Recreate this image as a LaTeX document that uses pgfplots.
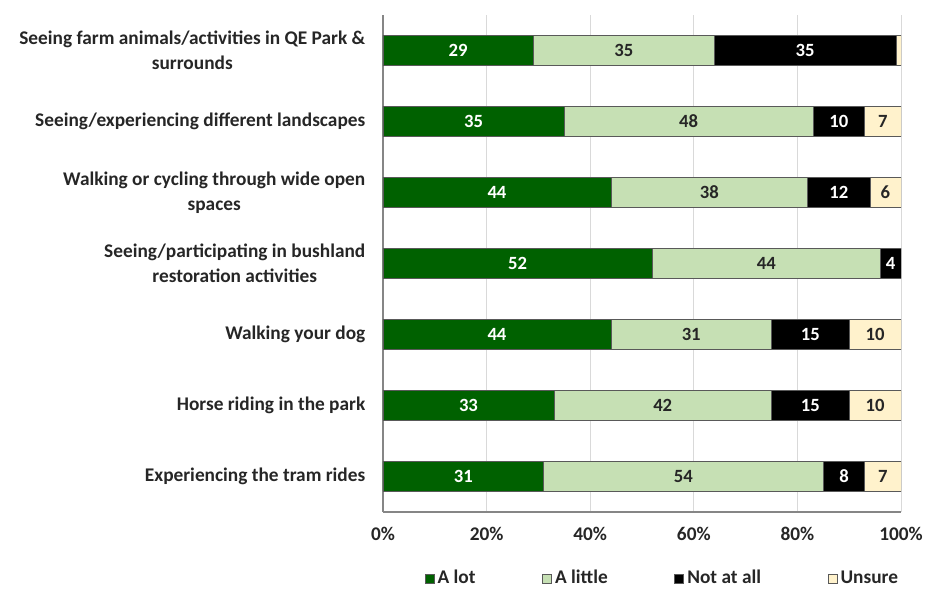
\documentclass[border=0pt]{standalone}
\usepackage{pgfplots}
\usepackage{pgfplotstable}
\usepackage{fontspec}
\setmainfont{Carlito}
\pgfplotsset{compat=1.18}

\definecolor{alot}{HTML}{006100}
\definecolor{alittle}{HTML}{C6E0B4}
\definecolor{notatall}{HTML}{000000}
\definecolor{unsure}{HTML}{FFF2CC}
\definecolor{gridgrey}{HTML}{D9D9D9}
\definecolor{axisgrey}{HTML}{868686}
\definecolor{txt}{HTML}{262626}
\definecolor{barline}{HTML}{595959}

% share of respondents (%) per activity
\pgfplotstableread{
idx alot alittle notatall unsure
1   29   35      35       1
2   35   48      10       7
3   44   38      12       6
4   52   44      4        0
5   44   31      15       10
6   33   42      15       10
7   31   54      8        7
}\responses

\newcommand{\lbl}{\fontsize{14.5}{18.5}\selectfont\bfseries}
\newcommand{\barlbl}{\fontsize{14}{16}\selectfont\bfseries}

\pgfplotsset{
  frame/.style={
    scale only axis, width=388.5pt, height=372.75pt,
    xmin=0, xmax=100, ymin=0.5, ymax=7.5, y dir=reverse,
    /pgf/number format/assume math mode=true,
  },
  segment/.style={fill=#1, draw=barline, line width=0.4pt},
  % value printed at the middle of its segment
  seglabel/.style 2 args={
    draw=none, mark=none,
    visualization depends on={\thisrow{#1} \as \segval},
    nodes near coords={\ifdim\segval pt<1.5pt\else\pgfmathprintnumber{\segval}\fi},
    every node near coord/.append style={anchor=center, inner sep=0pt,
      text=#2, font=\barlbl},
  },
}

\begin{document}
\begin{tikzpicture}
\begin{axis}[
  name=main, frame,
  xbar stacked, bar width=22.5pt,
  axis x line*=bottom, axis y line*=left,
  axis line style={axisgrey, line width=0.8pt},
  xtick={0,20,...,100}, ytick={1,...,7},
  major tick length=0pt,
  xmajorgrids, grid style={gridgrey, line width=0.6pt},
  xticklabel={\pgfmathprintnumber{\tick}\%},
  xticklabel style={font=\lbl, text=txt, yshift=-8pt},
  yticklabel style={font=\lbl, text=txt, align=center, xshift=-9.75pt},
  yticklabels={
    {Seeing farm animals/activities in QE Park \&\\surrounds},
    {Seeing/experiencing different landscapes},
    {Walking or cycling through wide open\\spaces},
    {Seeing/participating in bushland\\restoration activities},
    {Walking your dog},
    {Horse riding in the park},
    {Experiencing the tram rides}},
  legend style={at={(0.54,-0.105)}, anchor=north, draw=none, fill=none,
    legend columns=4, font=\lbl, text=txt,
    nodes={text height=10.5pt, text depth=3pt},
    /tikz/every even column/.append style={column sep=48pt}},
  legend image code/.code={\draw[#1] (0pt,-3.4pt) rectangle (6.75pt,3.4pt);
    \path (7.25pt,0pt);},
]
\addplot[segment=alot]     table[x=alot, y=idx]     {\responses};
\addplot[segment=alittle]  table[x=alittle, y=idx]  {\responses};
\addplot[segment=notatall] table[x=notatall, y=idx] {\responses};
\addplot[segment=unsure]   table[x=unsure, y=idx]   {\responses};
\legend{A lot, A little, Not at all, Unsure}
\end{axis}

% segment values, centred in each bar piece
\begin{axis}[frame, at={(main.south west)}, anchor=south west, hide axis]
\addplot[seglabel={alot}{white}]
  table[x expr={\thisrow{alot}/2}, y=idx] {\responses};
\addplot[seglabel={alittle}{txt}]
  table[x expr={\thisrow{alot}+\thisrow{alittle}/2}, y=idx] {\responses};
\addplot[seglabel={notatall}{white}]
  table[x expr={\thisrow{alot}+\thisrow{alittle}+\thisrow{notatall}/2}, y=idx] {\responses};
\addplot[seglabel={unsure}{txt}]
  table[x expr={\thisrow{alot}+\thisrow{alittle}+\thisrow{notatall}+\thisrow{unsure}/2}, y=idx] {\responses};
\end{axis}

\pgfresetboundingbox
\path[use as bounding box]
  ([xshift=-287.25pt, yshift=-60pt]main.south west)
  rectangle ([xshift=18.75pt, yshift=11.25pt]main.north east);
\end{tikzpicture}
\end{document}
